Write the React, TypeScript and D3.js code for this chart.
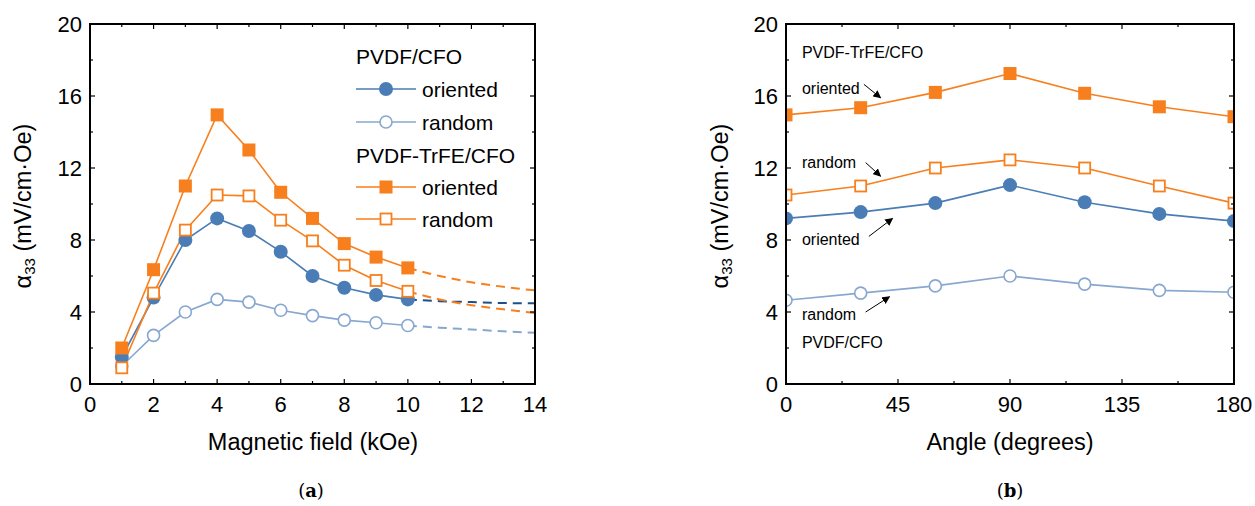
import React from "react"
import * as d3 from "d3"

// panel (a): magnetic field sweep
const fieldKOe = [1, 2, 3, 4, 5, 6, 7, 8, 9, 10]
const pvdfOriented = [1.5, 4.8, 8.0, 9.2, 8.5, 7.35, 6.0, 5.35, 4.95, 4.7]
const pvdfRandom = [1.0, 2.7, 4.0, 4.7, 4.55, 4.1, 3.8, 3.55, 3.4, 3.25]
const trfeOriented = [2.0, 6.35, 11.0, 14.95, 13.0, 10.65, 9.2, 7.8, 7.05, 6.45]
const trfeRandom = [0.9, 5.05, 8.55, 10.5, 10.45, 9.1, 7.95, 6.6, 5.75, 5.15]

// dashed extrapolation beyond 10 kOe
const tailKOe = [10, 11, 12, 13, 14]
const pvdfOrientedTail = [4.7, 4.6, 4.55, 4.5, 4.48]
const pvdfRandomTail = [3.25, 3.13, 3.03, 2.93, 2.85]
const trfeOrientedTail = [6.45, 6.0, 5.65, 5.4, 5.2]
const trfeRandomTail = [5.15, 4.7, 4.38, 4.15, 3.95]

// panel (b): angle sweep
const angleDeg = [0, 30, 60, 90, 120, 150, 180]
const angPvdfOriented = [9.2, 9.55, 10.05, 11.05, 10.1, 9.45, 9.05]
const angPvdfRandom = [4.65, 5.05, 5.45, 6.0, 5.55, 5.2, 5.1]
const angTrfeOriented = [14.95, 15.35, 16.2, 17.25, 16.15, 15.4, 14.85]
const angTrfeRandom = [10.5, 11.0, 12.0, 12.45, 12.0, 11.0, 10.05]

const fieldTicks = [0, 2, 4, 6, 8, 10, 12, 14]
const angleTicks = [0, 45, 90, 135, 180]
const alphaTicks = [0, 4, 8, 12, 16, 20]

const BLUE = "#4a7db5"
const LIGHTBLUE = "#87a7d0"
const DARKBLUE = "#1d4f88"
const ORANGE = "#f77f1d"
const FONT = "'Liberation Sans', Arial, sans-serif"

const TOP = 24
const BOTTOM = 384

type Series = { x: number[]; y: number[]; color: string; shape: "circle" | "square"; filled: boolean }

function Marker({ cx, cy, s }: { cx: number; cy: number; s: Series }) {
  if (s.shape === "circle") {
    return s.filled
      ? <circle cx={cx} cy={cy} r={7} fill={s.color} />
      : <circle cx={cx} cy={cy} r={6} fill="white" stroke={s.color} strokeWidth={1.6} />
  }
  return s.filled
    ? <rect x={cx - 6.5} y={cy - 6.5} width={13} height={13} fill={s.color} />
    : <rect x={cx - 5.5} y={cy - 5.5} width={11} height={11} fill="white" stroke={s.color} strokeWidth={1.8} />
}

function Frame({ x, y, xMajor, xMinorStep, id }: any) {
  const [x0, x1] = x.range()
  const yMinor = d3.range(0, 21, 2)
  const xMinor = d3.range(x.domain()[0], x.domain()[1] + 0.01, xMinorStep)
  return (
    <g>
      {xMinor.map((v: number) => {
        const major = xMajor.includes(v)
        const l = major ? 5 : 3
        return (
          <g key={id + "xt" + v}>
            <line x1={x(v)} x2={x(v)} y1={BOTTOM} y2={BOTTOM - l} stroke="black" strokeWidth={1.2} />
            <line x1={x(v)} x2={x(v)} y1={TOP} y2={TOP + l} stroke="black" strokeWidth={1.2} />
          </g>
        )
      })}
      {yMinor.map((v) => {
        const l = v % 4 === 0 ? 5 : 3
        return (
          <g key={id + "yt" + v}>
            <line x1={x0} x2={x0 + l} y1={y(v)} y2={y(v)} stroke="black" strokeWidth={1.2} />
            <line x1={x1} x2={x1 - l} y1={y(v)} y2={y(v)} stroke="black" strokeWidth={1.2} />
          </g>
        )
      })}
      <rect x={x0} y={TOP} width={x1 - x0} height={BOTTOM - TOP} fill="none" stroke="black" strokeWidth={2} />
      {xMajor.map((v: number) => (
        <text key={id + "xl" + v} x={x(v)} y={BOTTOM + 28} textAnchor="middle" fontSize={22} fontFamily={FONT}>{v}</text>
      ))}
      {alphaTicks.map((v) => (
        <text key={id + "yl" + v} x={x0 - 8} y={y(v)} dy="0.36em" textAnchor="end" fontSize={22} fontFamily={FONT}>{v}</text>
      ))}
    </g>
  )
}

function YTitle({ cx }: { cx: number }) {
  return (
    <text transform={`translate(${cx},206) rotate(-90)`} textAnchor="middle" dominantBaseline="central" fontSize={23.5} fontFamily={FONT}>
      α<tspan fontSize={15} dy={6}>33</tspan><tspan dy={-6}> (mV/cm·Oe)</tspan>
    </text>
  )
}

function PanelA() {
  const x = d3.scaleLinear().domain([0, 14]).range([90, 535])
  const y = d3.scaleLinear().domain([0, 20]).range([BOTTOM, TOP])
  const line = d3.line<[number, number]>().x((d) => x(d[0])).y((d) => y(d[1]))
  const tail = d3.line<[number, number]>().x((d) => x(d[0])).y((d) => y(d[1])).curve(d3.curveMonotoneX)
  const zip = (a: number[], b: number[]) => a.map((v, i) => [v, b[i]] as [number, number])

  const series: Series[] = [
    { x: fieldKOe, y: pvdfRandom, color: LIGHTBLUE, shape: "circle", filled: false },
    { x: fieldKOe, y: pvdfOriented, color: BLUE, shape: "circle", filled: true },
    { x: fieldKOe, y: trfeRandom, color: ORANGE, shape: "square", filled: false },
    { x: fieldKOe, y: trfeOriented, color: ORANGE, shape: "square", filled: true },
  ]
  const tails = [
    { y: pvdfRandomTail, color: LIGHTBLUE },
    { y: pvdfOrientedTail, color: DARKBLUE },
    { y: trfeRandomTail, color: ORANGE },
    { y: trfeOrientedTail, color: ORANGE },
  ]
  const legend = [
    { head: "PVDF/CFO" },
    { label: "oriented", s: series[1] },
    { label: "random", s: series[0] },
    { head: "PVDF-TrFE/CFO" },
    { label: "oriented", s: series[3] },
    { label: "random", s: series[2] },
  ]
  const rows = [56, 89, 122, 155, 187, 219]

  return (
    <g>
      {tails.map((t, i) => (
        <path key={"t" + i} d={tail(zip(tailKOe, t.y)) || ""} fill="none" stroke={t.color} strokeWidth={2} strokeDasharray="9,6" />
      ))}
      {series.map((s, i) => (
        <path key={"l" + i} d={line(zip(s.x, s.y)) || ""} fill="none" stroke={s.color} strokeWidth={1.6} />
      ))}
      {series.map((s, i) => (
        <g key={"m" + i}>
          {s.x.map((v, j) => <Marker key={j} cx={x(v)} cy={y(s.y[j])} s={s} />)}
        </g>
      ))}
      <Frame x={x} y={y} xMajor={fieldTicks} xMinorStep={1} id="a" />
      {legend.map((r, i) => r.head ? (
        <text key={"lg" + i} x={356} y={rows[i]} dy="0.36em" fontSize={21} fontFamily={FONT}>{r.head}</text>
      ) : (
        <g key={"lg" + i}>
          <line x1={356} x2={416} y1={rows[i]} y2={rows[i]} stroke={r.s!.color} strokeWidth={1.6} />
          <Marker cx={386} cy={rows[i]} s={r.s!} />
          <text x={422} y={rows[i]} dy="0.36em" fontSize={21} fontFamily={FONT}>{r.label}</text>
        </g>
      ))}
      <YTitle cx={23} />
      <text x={313} y={450} textAnchor="middle" fontSize={23.5} fontFamily={FONT}>Magnetic field (kOe)</text>
      <text x={311} y={497} textAnchor="middle" fontSize={18} fontFamily="'DejaVu Serif', 'Liberation Serif', serif">
        (<tspan fontWeight="bold">a</tspan>)
      </text>
    </g>
  )
}

// annotation texts and arrows for panel (b), in data units
const annTexts = [
  { a: 6.4, v: 18.45, t: "PVDF-TrFE/CFO" },
  { a: 6.4, v: 16.45, t: "oriented" },
  { a: 6.4, v: 12.3, t: "random" },
  { a: 6.4, v: 8.05, t: "oriented" },
  { a: 6.4, v: 3.9, t: "random" },
  { a: 6.4, v: 2.3, t: "PVDF/CFO" },
]
const annArrows = [
  [31.3, 16.65, 38.0, 15.9],
  [32.0, 12.3, 38.0, 11.55],
  [33.3, 8.2, 42.8, 9.2],
  [32.0, 4.0, 41.6, 4.85],
]

function PanelB() {
  const x = d3.scaleLinear().domain([0, 180]).range([786, 1234])
  const y = d3.scaleLinear().domain([0, 20]).range([BOTTOM, TOP])
  const line = d3.line<[number, number]>().x((d) => x(d[0])).y((d) => y(d[1]))
  const zip = (a: number[], b: number[]) => a.map((v, i) => [v, b[i]] as [number, number])
  const series: Series[] = [
    { x: angleDeg, y: angPvdfRandom, color: LIGHTBLUE, shape: "circle", filled: false },
    { x: angleDeg, y: angPvdfOriented, color: BLUE, shape: "circle", filled: true },
    { x: angleDeg, y: angTrfeRandom, color: ORANGE, shape: "square", filled: false },
    { x: angleDeg, y: angTrfeOriented, color: ORANGE, shape: "square", filled: true },
  ]
  return (
    <g>
      <defs>
        <clipPath id="clipB">
          <rect x={786} y={TOP} width={448} height={BOTTOM - TOP} />
        </clipPath>
        <marker id="arrowHead" viewBox="0 0 10 10" refX={9} refY={5} markerWidth={8} markerHeight={8} orient="auto" markerUnits="userSpaceOnUse">
          <path d="M0,0 L10,5 L0,10 z" fill="black" />
        </marker>
      </defs>
      <g clipPath="url(#clipB)">
        {series.map((s, i) => (
          <path key={"l" + i} d={line(zip(s.x, s.y)) || ""} fill="none" stroke={s.color} strokeWidth={1.6} />
        ))}
        {series.map((s, i) => (
          <g key={"m" + i}>
            {s.x.map((v, j) => <Marker key={j} cx={x(v)} cy={y(s.y[j])} s={s} />)}
          </g>
        ))}
      </g>
      <Frame x={x} y={y} xMajor={angleTicks} xMinorStep={22.5} id="b" />
      {annTexts.map((t, i) => (
        <text key={"at" + i} x={x(t.a)} y={y(t.v)} dy="0.36em" fontSize={16} fontFamily={FONT}>{t.t}</text>
      ))}
      {annArrows.map((a, i) => (
        <line key={"ar" + i} x1={x(a[0])} y1={y(a[1])} x2={x(a[2])} y2={y(a[3])} stroke="black" strokeWidth={1} markerEnd="url(#arrowHead)" />
      ))}
      <YTitle cx={720} />
      <text x={1010} y={450} textAnchor="middle" fontSize={23.5} fontFamily={FONT}>Angle (degrees)</text>
      <text x={1010} y={497} textAnchor="middle" fontSize={18} fontFamily="'DejaVu Serif', 'Liberation Serif', serif">
        (<tspan fontWeight="bold">b</tspan>)
      </text>
    </g>
  )
}

export default function App() {
  return (
    <div style={{ position: "absolute", left: 0, top: 0 }}>
      <svg width={1255} height={506} style={{ display: "block", background: "white" }}>
        <PanelA />
        <PanelB />
      </svg>
    </div>
  )
}
